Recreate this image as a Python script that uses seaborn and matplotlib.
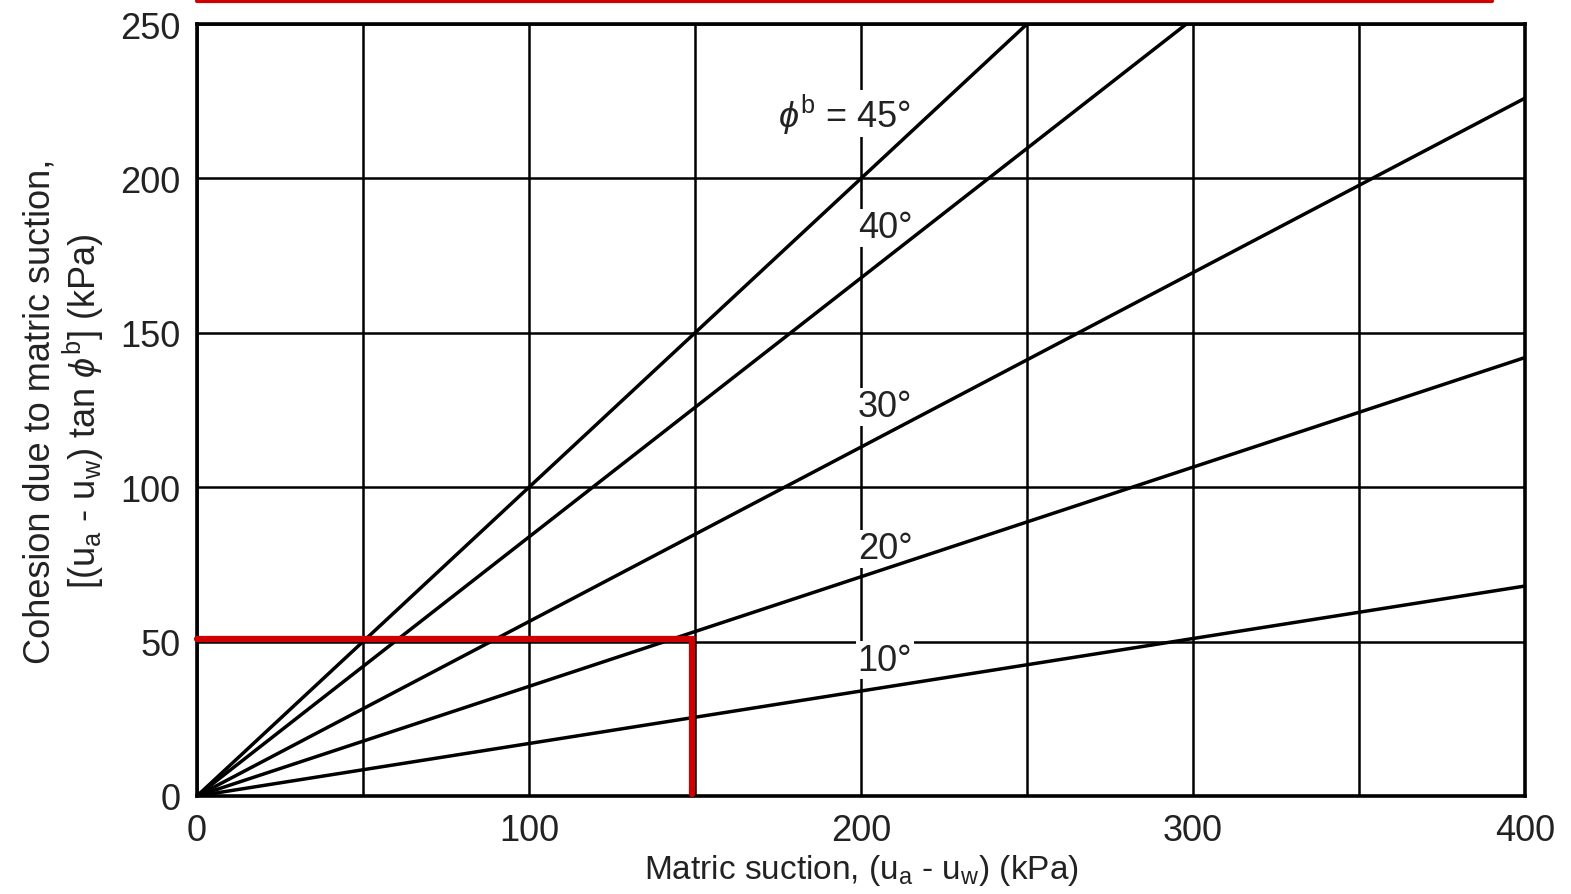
import numpy as np
import pandas as pd
import matplotlib
matplotlib.use('Agg')
import matplotlib.pyplot as plt
import seaborn as sns

# Lines of cohesion vs matric suction, end points
phi_b = [45, 40, 30, 20, 10]
x_end = [250, 298, 400, 400, 400]
y_end = [250, 250, 226, 142, 68]

# Label positions (data coords) for each line
label_text = [r'$\phi^{\mathrm{b}}$ = 45°', '40°', '30°', '20°', '10°']
label_x = [175, 199, 199, 199, 199]
label_y = [221, 184, 126, 80, 44]

# Red reading lines (suction 150 kPa -> cohesion 50 kPa)
read_x = [0, 149, 149]
read_y = [51, 51, 0.5]

rows = []
for p, xe, ye in zip(phi_b, x_end, y_end):
    rows.append({'phi': p, 'x': 0, 'y': 0})
    rows.append({'phi': p, 'x': xe, 'y': ye})
df = pd.DataFrame(rows)

sns.set_style('white')
plt.rcParams['font.family'] = ['Liberation Sans', 'DejaVu Sans']
plt.rcParams['mathtext.fontset'] = 'custom'
plt.rcParams['mathtext.rm'] = 'Liberation Sans'
plt.rcParams['mathtext.it'] = 'Liberation Sans:italic'

fig = plt.figure(figsize=(15.71, 8.95), dpi=100)
ax = fig.add_axes([0.1254, 0.1095, 0.8453, 0.8625])

sns.lineplot(data=df, x='x', y='y', units='phi', estimator=None,
             color='black', linewidth=2.5, ax=ax, zorder=3)

ax.set_xlim(0, 400)
ax.set_ylim(0, 250)
ax.set_xticks([0, 100, 200, 300, 400])
ax.set_xticks([50, 150, 250, 350], minor=True)
ax.set_yticks([0, 50, 100, 150, 200, 250])
ax.grid(True, which='both', color='black', linewidth=1.8)
ax.tick_params(axis='both', which='both', length=0, labelsize=26, colors='#222222')
ax.tick_params(axis='x', pad=12)
ax.tick_params(axis='y', pad=12)
for s in ax.spines.values():
    s.set_color('black')
    s.set_linewidth(2.6)

for t, lx, ly in zip(label_text, label_x, label_y):
    ax.text(lx, ly, t, fontsize=26, color='#222222', va='center', ha='left',
            bbox=dict(facecolor='white', edgecolor='none', pad=1), zorder=2)

ax.set_xlabel(r'Matric suction, (u$_{\mathrm{a}}$ - u$_{\mathrm{w}}$) (kPa)',
              fontsize=24, color='#222222', labelpad=3)
ax.set_ylabel('Cohesion due to matric suction,\n'
              r'[(u$_{\mathrm{a}}$ - u$_{\mathrm{w}}$) tan $\phi^{\mathrm{b}}$] (kPa)',
              fontsize=26, color='#222222', labelpad=10, linespacing=1.1)

# red highlight lines
ax.plot(read_x, read_y, color='#d00000', linewidth=4.5, zorder=5,
        solid_joinstyle='miter', clip_on=False)
ax.plot([0, 390], [257.5, 257.5], color='#d00000', linewidth=3, clip_on=False)

fig.savefig('out.png', dpi=100)
